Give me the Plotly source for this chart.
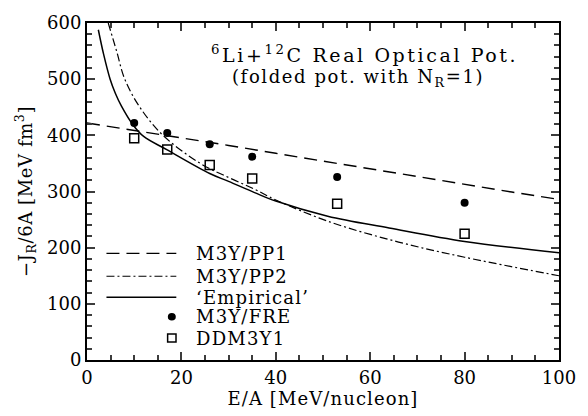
import plotly.graph_objects as go

# --- data ---
pp1_E = [0, 10, 20, 30, 40, 50, 60, 70, 80, 90, 100]
pp1_J = [422, 409, 396, 382, 368, 354, 340, 326, 312, 299, 286]

pp2_E = [4.5, 6.3, 8, 11.2, 16.1, 24, 30, 35.5, 40, 51.4, 66, 80, 100]
pp2_J = [600, 549, 500, 450, 400, 350, 325, 304, 285, 246, 210, 183, 150]

emp_E = [2.4, 3.5, 4.9, 6, 7.3, 9.8, 12, 17, 26, 30, 35.5, 40, 51, 64, 80, 100]
emp_J = [588, 545, 500, 475, 452, 418, 398, 374, 332, 318, 298, 283, 256, 235, 211, 191]

fre_E = [10, 17, 26, 35, 53, 80]
fre_J = [422, 404, 384, 362, 326, 280]

dd_E = [10, 17, 26, 35, 53, 80]
dd_J = [395, 375, 347, 323, 278, 225]

legend_labels = ["M3Y/PP1", "M3Y/PP2", "\u2018Empirical\u2019", "M3Y/FRE", "DDM3Y1"]

FONT = "DejaVu Serif"
W, H = 588, 416
L, R, T, B = 87, 28, 12, 50
PW, PH = W - L - R, H - T - B
TICK = "#3c3c3c"


def px(x):
    return (x - L) / PW


def py(y):
    return (H - B - y) / PH


def sp(text, s=1.1):
    return f'<span style="letter-spacing:{s}px">{text}</span>'


dash_pp1 = "13px,7px"
dash_pp2 = "8px,3px,2px,3px"

fig = go.Figure()
fig.add_trace(go.Scatter(x=pp1_E, y=pp1_J, mode="lines", name=legend_labels[0],
                         line=dict(color="black", width=1.4, dash=dash_pp1)))
fig.add_trace(go.Scatter(x=pp2_E, y=pp2_J, mode="lines", name=legend_labels[1],
                         line=dict(color="black", width=1.2, dash=dash_pp2, shape="spline")))
fig.add_trace(go.Scatter(x=emp_E, y=emp_J, mode="lines", name=legend_labels[2],
                         line=dict(color="black", width=1.5, shape="spline")))
fig.add_trace(go.Scatter(x=fre_E, y=fre_J, mode="markers", name=legend_labels[3],
                         marker=dict(symbol="circle", size=8, color="black")))
fig.add_trace(go.Scatter(x=dd_E, y=dd_J, mode="markers", name=legend_labels[4],
                         marker=dict(symbol="square-open", size=9, color="black",
                                     line=dict(width=1.5, color="black"))))

axis_common = dict(
    tickmode="linear", tick0=0,
    showgrid=False, zeroline=False, showline=True, linecolor="black", linewidth=2,
    mirror="ticks", ticks="inside", ticklen=8, tickwidth=2, tickcolor=TICK,
    tickfont=dict(family=FONT, size=18, color="black"),
)
fig.update_xaxes(range=[0, 100], dtick=20,
                 minor=dict(tickmode="linear", dtick=5, ticks="inside", ticklen=5, tickwidth=1.6,
                            tickcolor=TICK),
                 title=dict(text=sp("E/A [MeV/nucleon]"), font=dict(family=FONT, size=18, color="black"),
                            standoff=4),
                 **axis_common)
fig.update_yaxes(range=[0, 600], dtick=100,
                 minor=dict(tickmode="linear", dtick=20, ticks="inside", ticklen=5, tickwidth=1.6,
                            tickcolor=TICK),
                 title=dict(text=sp("\u2212J<sub>R</sub>/6A [MeV fm<sup>3</sup>]", 0.6),
                            font=dict(family=FONT, size=18, color="black"), standoff=10),
                 **axis_common)

fig.add_annotation(xref="paper", yref="paper", x=px(365), y=py(45), xanchor="center", yanchor="middle",
                   text=sp("<sup>6</sup>Li+<sup>12</sup>C Real Optical Pot.", 2.6), showarrow=False,
                   font=dict(family=FONT, size=19, color="black"))
fig.add_annotation(xref="paper", yref="paper", x=px(359), y=py(70), xanchor="center", yanchor="middle",
                   text=sp("(folded pot. with N<sub>R</sub>=1)", 1.6), showarrow=False,
                   font=dict(family=FONT, size=18, color="black"))

rows = [254, 278, 300, 320.5, 343]
line_styles = [dict(width=1.4, dash=dash_pp1), dict(width=1.2, dash=dash_pp2), dict(width=1.5, dash="solid")]
for i in range(3):
    fig.add_shape(type="line", xref="paper", yref="paper",
                  x0=px(106.5), x1=px(176.5), y0=py(rows[i]), y1=py(rows[i]),
                  line=dict(color="black", **line_styles[i]))
r = 4
fig.add_shape(type="circle", xref="paper", yref="paper",
              x0=px(172 - r), x1=px(172 + r), y0=py(rows[3] + r), y1=py(rows[3] - r),
              fillcolor="black", line=dict(color="black", width=0))
s = 4.2
fig.add_shape(type="rect", xref="paper", yref="paper",
              x0=px(172 - s), x1=px(172 + s), y0=py(rows[4] + s), y1=py(rows[4] - s),
              fillcolor="rgba(0,0,0,0)", line=dict(color="black", width=1.5))
for lab, yy in zip(legend_labels, rows):
    fig.add_annotation(xref="paper", yref="paper", x=px(194), y=py(yy), xanchor="left", yanchor="middle",
                       text=sp(lab, 1.2), showarrow=False, font=dict(family=FONT, size=18, color="black"))

fig.update_layout(
    width=W, height=H,
    margin=dict(l=L, r=R, t=T, b=B),
    paper_bgcolor="white", plot_bgcolor="white",
    font=dict(family=FONT, color="black"),
    showlegend=False,
)

fig.write_html("out.html")
